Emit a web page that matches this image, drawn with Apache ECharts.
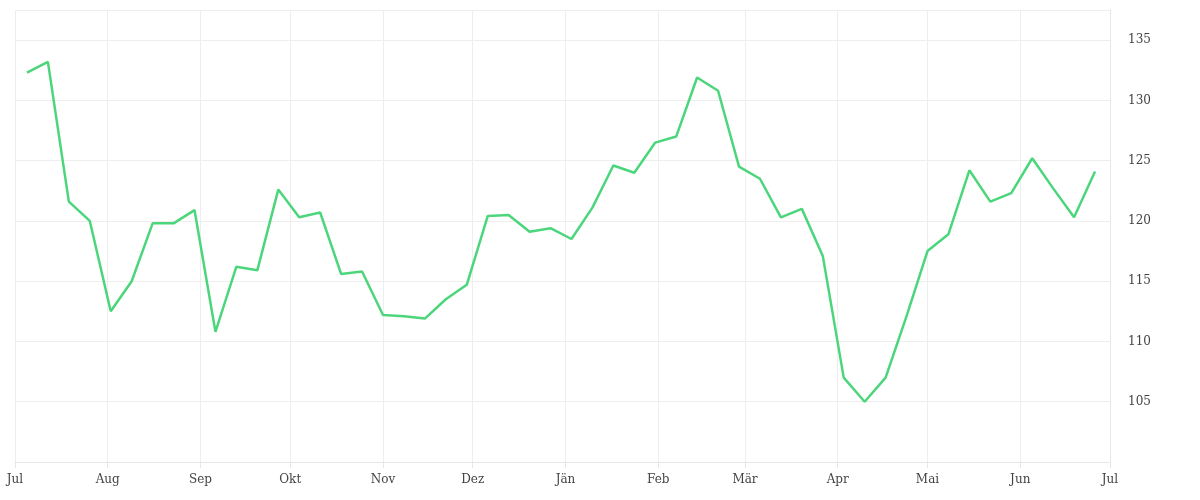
<!DOCTYPE html>
<html><head><meta charset="utf-8">
<script src="https://cdn.jsdelivr.net/npm/echarts@6/dist/echarts.min.js"></script>
<style>html,body{margin:0;padding:0;background:#fff}#c{width:1200px;height:500px}</style>
</head><body><div id="c"></div>
<script>
const startDate = '2023-07-05';
const values = [132.3,133.2,121.6,120.0,112.5,115.0,119.8,119.8,120.9,110.8,116.2,115.9,122.6,120.3,120.7,115.6,115.8,112.2,112.1,111.9,113.5,114.7,120.4,120.5,119.1,119.4,118.5,121.1,124.6,124.0,126.5,127.0,131.9,130.8,124.5,123.5,120.3,121.0,117.1,107.0,105.0,107.0,112.1,117.5,118.9,124.2,121.6,122.3,125.2,122.7,120.3,124.1];
const monthNames = ['Jän','Feb','Mär','Apr','Mai','Jun','Jul','Aug','Sep','Okt','Nov','Dez'];
const DAY = 86400000;
const t0 = Date.UTC(2023,6,5);
const data = values.map((v,i)=>[t0+i*7*DAY, v]);
const chart = echarts.init(document.getElementById('c'));
const font = '"DejaVu Serif", "Liberation Serif", serif';
chart.setOption({
  animation:false,
  grid:{left:15,right:90,top:10,bottom:38},
  xAxis:{type:'time',min:Date.UTC(2023,6,1),max:Date.UTC(2024,6,1),
    splitNumber:12,
    axisLine:{show:true,lineStyle:{color:'#e6e6e6'}},
    axisTick:{show:true,length:6,lineStyle:{color:'#e6e6e6'}},
    splitLine:{show:true,lineStyle:{color:'#eeeeee'}},
    axisLabel:{color:'#444',fontFamily:font,fontSize:12,margin:12,hideOverlap:false,
      formatter:function(v){const d=new Date(v);return monthNames[d.getUTCMonth()];}}
  },
  yAxis:{type:'value',position:'right',min:100,max:137.5,interval:5,
    axisLine:{show:true,lineStyle:{color:'#e6e6e6'}},
    axisTick:{show:false},
    splitLine:{show:true,lineStyle:{color:'#eeeeee'}},
    axisLabel:{color:'#444',fontFamily:font,fontSize:12,margin:18,
      formatter:function(v){return (v>=105 && v<=135)?String(v):'';}}
  },
  series:[{type:'line',data:data,showSymbol:false,
    lineStyle:{color:'#4cd67c',width:2.5},itemStyle:{color:'#4cd67c'}}]
});
</script></body></html>
